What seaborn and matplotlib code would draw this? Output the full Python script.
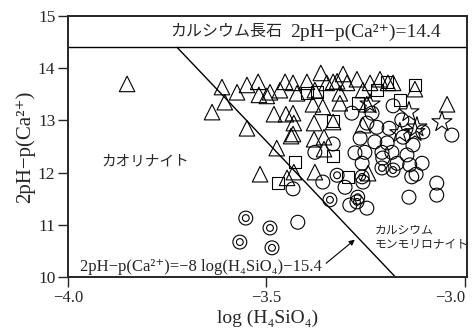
import numpy as np
import pandas as pd
import matplotlib
matplotlib.use("Agg")
import matplotlib.pyplot as plt
import seaborn as sns

# ---- data ----
tri_x = [-3.851, -3.612, -3.574, -3.549, -3.605, -3.637, -3.549, -3.521, -3.519, -3.499,
         -3.491, -3.466, -3.453, -3.433, -3.423, -3.398, -3.378, -3.363, -3.348, -3.332,
         -3.322, -3.307, -3.297, -3.315, -3.272, -3.257, -3.239, -3.214, -3.194, -3.181,
         -3.126, -3.045, -3.481, -3.451, -3.433, -3.431, -3.380, -3.438, -3.433, -3.380,
         -3.355, -3.474, -3.355, -3.516, -3.448, -3.431, -3.378, -3.383, -3.358, -3.315,
         -3.247, -3.332, -3.257, -3.244]
tri_y = [13.70, 13.64, 13.54, 13.68, 13.35, 13.16, 12.85, 13.74, 13.49, 13.47,
         13.54, 13.58, 13.74, 13.72, 13.52, 13.74, 13.58, 13.91, 13.72, 13.74,
         13.75, 13.89, 13.72, 13.52, 13.79, 13.58, 13.72, 13.79, 13.72, 13.72,
         13.60, 13.31, 13.12, 13.12, 13.14, 12.95, 12.95, 12.70, 12.74, 12.64,
         12.68, 12.47, 12.45, 11.97, 11.90, 12.01, 12.01, 13.31, 13.26, 13.33,
         13.31, 12.97, 12.91, 11.99]

sq_x = [-3.428, -3.471, -3.332, -3.332, -3.295, -3.270, -3.164, -3.126, -3.196, -3.222,
        -3.373, -3.398]
sq_y = [12.20, 11.80, 12.99, 12.32, 11.92, 13.33, 13.39, 13.68, 13.74, 13.58,
        13.54, 13.52]

star_x = [-3.239, -3.141, -3.058, -3.164, -3.126, -3.121]
star_y = [13.31, 13.16, 12.97, 12.76, 12.78, 12.87]

circ_x = [-3.181, -3.285, -3.159, -3.234, -3.247, -3.222, -3.191, -3.106, -3.033, -3.264,
          -3.227, -3.196, -3.156, -3.131, -3.277, -3.252, -3.209, -3.184, -3.146, -3.207,
          -3.259, -3.171, -3.139, -3.108, -3.134, -3.123, -3.257, -3.302, -3.071, -3.071,
          -3.141, -3.247, -3.378, -3.332, -3.358, -3.433, -3.421, -3.290]
circ_y = [13.28, 13.14, 13.01, 13.14, 12.95, 12.87, 12.85, 12.78, 12.72, 12.66,
          12.59, 12.57, 12.68, 12.53, 12.38, 12.39, 12.39, 12.39, 12.34, 12.28,
          12.18, 12.18, 12.15, 12.18, 11.92, 11.97, 11.82, 11.72, 11.80, 11.57,
          11.53, 11.32, 12.39, 12.55, 11.82, 11.69, 11.05, 11.38]

dbl_x = [-3.209, -3.181, -3.322, -3.270, -3.272, -3.340, -3.552, -3.491, -3.567, -3.486,
         -3.259]
dbl_y = [12.09, 12.05, 11.95, 11.53, 11.44, 11.48, 11.13, 10.94, 10.67, 10.56,
         11.92]

# boundaries: 2pH-p(Ca) = 14.4 and 2pH-p(Ca) = -8 log(H4SiO4) - 15.4
anorthite_level = 14.4
slope, intercept = -8.0, -15.4

sns.set_style("ticks")
plt.rcParams['font.family'] = ['Liberation Serif', 'Noto Sans CJK JP', 'DejaVu Serif']

fig = plt.figure(figsize=(4.75, 3.35), dpi=100)
ax = fig.add_axes([0.143, 0.173, 0.840, 0.779])

groups = [
    (tri_x, tri_y, '^', 125),
    (sq_x, sq_y, 's', 75),
    (star_x, star_y, '*', 230),
    (circ_x, circ_y, 'o', 100),
    (dbl_x, dbl_y, 'o', 100),
    (dbl_x, dbl_y, 'o', 24),
]
for gx, gy, mk, size in groups:
    sns.scatterplot(x=gx, y=gy, marker=mk, s=size, facecolor='none',
                    edgecolor='black', linewidth=0.8, ax=ax, zorder=3)

# boundary lines
ax.axhline(anorthite_level, color='black', lw=1.0)
y_line = np.array([anorthite_level, 10.0])
x_line = (y_line - intercept) / slope
sns.lineplot(x=x_line, y=y_line, sort=False, color='black', lw=1.0, ax=ax)

ax.set_xlim(-4.0, -2.995)
ax.set_ylim(10, 15)
ax.set_xticks([-4.0, -3.5, -3.0])
ax.set_xticklabels(['−4.0', '−3.5', '−3.0'])
ax.set_yticks([10, 11, 12, 13, 14, 15])
ax.tick_params(direction='out', length=7, width=1.0, labelsize=12.5, pad=2)
ax.tick_params(axis='x', labelsize=12)
labels = ax.get_xticklabels()
labels[-1].set_horizontalalignment('right')
for sp in ax.spines.values():
    sp.set_visible(True)
    sp.set_linewidth(1.4)

ax.set_xlabel('log (H₄SiO₄)', fontsize=14, labelpad=3)
ax.set_ylabel('2pH−p(Ca²⁺)', fontsize=15, labelpad=2)

ax.text(-3.743, 14.7, 'カルシウム長石', fontsize=11.5, ha='left', va='center')
ax.text(-3.441, 14.69, '2pH−p(Ca²⁺)=14.4', fontsize=14, ha='left', va='center')
ax.text(-3.915, 12.2, 'カオリナイト', fontsize=10.5, ha='left', va='center')
ax.text(-3.227, 10.75, 'カルシウム\nモンモリロナイト', fontsize=8.5,
        ha='left', va='center', linespacing=1.35)
ax.text(-3.97, 10.19, '2pH−p(Ca²⁺)=−8 log(H₄SiO₄)−15.4', fontsize=12,
        ha='left', va='center')
ax.annotate('', xy=(-3.272, 10.75), xytext=(-3.355, 10.23),
            arrowprops=dict(arrowstyle='-|>', color='black', lw=0.8,
                            mutation_scale=8))

fig.savefig('out.png', dpi=100)
